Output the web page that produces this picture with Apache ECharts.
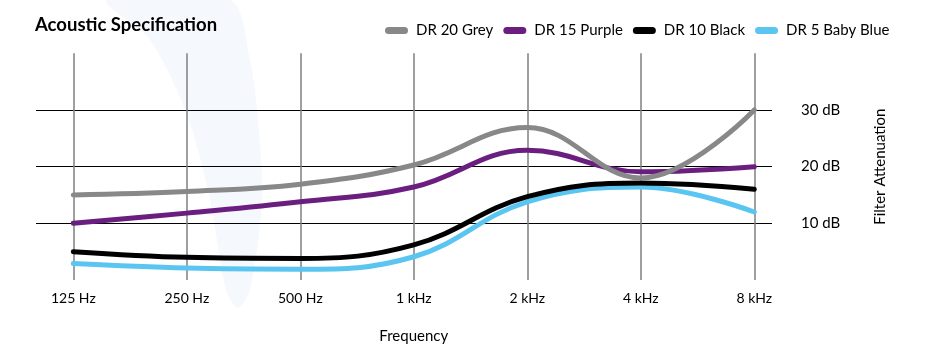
<!DOCTYPE html>
<html><head><meta charset="utf-8">
<script src="https://cdn.jsdelivr.net/npm/echarts@6/dist/echarts.min.js"></script>
<style>html,body{margin:0;padding:0;background:#fff}#c{width:929px;height:359px}</style>
</head><body><div id="c"></div>
<script>
const categories = ['125 Hz','250 Hz','500 Hz','1 kHz','2 kHz','4 kHz','8 kHz'];
const grey   = [15.0, 15.6, 16.9, 20.3, 26.9, 18.0, 30.0];
const purple = [10.0, 11.8, 13.8, 16.4, 22.9, 19.1, 20.0];
const black  = [5.0, 4.0, 3.8, 6.2, 14.7, 17.1, 16.0];
const blue   = [2.9, 2.1, 1.9, 4.1, 13.8, 16.4, 12.0];
const yTicks = [10, 20, 30];
const FONT = 'Lato';
const chart = echarts.init(document.getElementById('c'));
const capsule = 'path://M3.5,0 H19.5 A3.5,3.5 0 0 1 19.5,7 H3.5 A3.5,3.5 0 0 1 3.5,0 Z';
function line(name, data, color, z){
  return {name, type:'line', data, xAxisIndex:0, yAxisIndex:0, smooth:0.4, symbol:'none', clip:false, z,
    lineStyle:{width:5, color, cap:'round', join:'round'}, itemStyle:{color}};
}
chart.setOption({
  animation:false,
  textStyle:{fontFamily:FONT},
  title:{text:'Acoustic Specification', left:30, top:11, textStyle:{fontFamily:FONT, fontSize:18.5, fontWeight:'bold', color:'#000'}},
  legend:{left:380, top:18, itemWidth:23, itemHeight:7, itemGap:10, icon:capsule,
    textStyle:{fontFamily:FONT, fontSize:15, color:'#000', padding:[0,0,0,3]},
    data:['DR 20 Grey','DR 15 Purple','DR 10 Black','DR 5 Baby Blue']},
  graphic:[{type:'polygon', z:-10, silent:true,
    shape:{smooth:0.3, points:[[107,0],[150,40],[187,115],[210,200],[226,290],[238,308],[250,290],[262,200],[258,120],[250,60],[230,0]]},
    style:{fill:'#f5f9fd'}}],
  grid:[
    {left:73.3, right:174.7, top:53.3, bottom:79, containLabel:false},
    {left:36, right:157, top:110, bottom:135.7, containLabel:false}
  ],
  xAxis:[
    {type:'category', gridIndex:0, data:categories, boundaryGap:false,
     axisLine:{show:false}, axisTick:{show:false},
     splitLine:{show:true, lineStyle:{color:'#7f7f7f', width:1.5}},
     axisLabel:{margin:11, fontSize:14, color:'#000', fontFamily:FONT},
     name:'Frequency', nameLocation:'middle', nameGap:49, nameTextStyle:{fontSize:15, color:'#000', fontFamily:FONT}},
    {type:'value', gridIndex:1, show:false, min:0, max:1}
  ],
  yAxis:[
    {type:'value', gridIndex:0, min:0, max:40, show:false, splitLine:{show:false}},
    {type:'value', gridIndex:1, min:10, max:30, interval:10, position:'right',
     axisLine:{show:false}, axisTick:{show:false},
     splitLine:{show:true, lineStyle:{color:'#000', width:1.2}},
     axisLabel:{margin:29, fontSize:15, color:'#000', fontFamily:FONT, formatter:v=>v+' dB'},
     name:'Filter Attenuation', nameLocation:'middle', nameGap:101, nameRotate:90,
     nameTextStyle:{fontSize:15, color:'#000', fontFamily:FONT}}
  ],
  series:[
    line('DR 5 Baby Blue', blue, '#5bc5f2', 2),
    line('DR 10 Black', black, '#000000', 3),
    line('DR 15 Purple', purple, '#6a1f80', 4),
    line('DR 20 Grey', grey, '#888888', 5)
  ]
});
</script></body></html>
